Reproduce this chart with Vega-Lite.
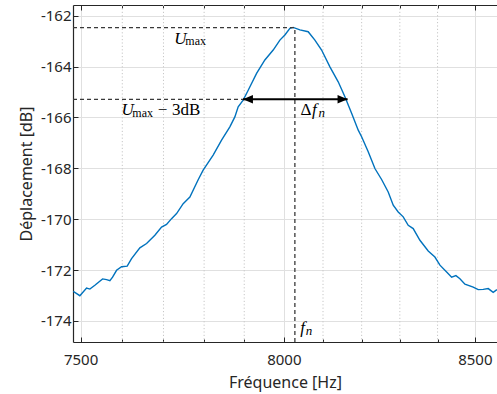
{
  "$schema": "https://vega.github.io/schema/vega-lite/v6.json",
  "width": 424,
  "height": 337,
  "autosize": {"type": "none"},
  "padding": {"left": 73, "top": 5, "right": 0, "bottom": 52},
  "background": "white",
  "config": {
    "view": {"stroke": null},
    "axis": {
      "domainColor": "#262626",
      "tickColor": "#262626",
      "labelColor": "#262626",
      "titleColor": "#262626",
      "labelFont": "Noto Sans",
      "titleFont": "Noto Sans",
      "labelFontSize": 15,
      "titleFontSize": 16,
      "titleFontWeight": "normal",
      "gridColor": "#e0e0e0",
      "gridWidth": 1,
      "domainWidth": 1.2
    }
  },
  "datasets": {
    "curve": [
      {"f": 7482.4, "db": -172.84}, {"f": 7498.3, "db": -173.01}, {"f": 7514.3, "db": -172.71},
      {"f": 7522.2, "db": -172.75}, {"f": 7534.1, "db": -172.60}, {"f": 7552.6, "db": -172.35},
      {"f": 7562.2, "db": -172.38}, {"f": 7570.1, "db": -172.42}, {"f": 7576.6, "db": -172.28},
      {"f": 7586.2, "db": -172.01}, {"f": 7598.3, "db": -171.87}, {"f": 7611.8, "db": -171.85},
      {"f": 7622.4, "db": -171.55}, {"f": 7642.5, "db": -171.13}, {"f": 7658.8, "db": -170.96},
      {"f": 7679.0, "db": -170.63}, {"f": 7695.3, "db": -170.31}, {"f": 7707.5, "db": -170.21},
      {"f": 7719.8, "db": -169.98}, {"f": 7732.1, "db": -169.78}, {"f": 7748.3, "db": -169.39},
      {"f": 7764.8, "db": -169.13}, {"f": 7785.3, "db": -168.45}, {"f": 7797.6, "db": -168.07},
      {"f": 7822.4, "db": -167.48}, {"f": 7843.3, "db": -166.89}, {"f": 7864.0, "db": -166.37},
      {"f": 7876.5, "db": -165.98}, {"f": 7884.8, "db": -165.58}, {"f": 7897.3, "db": -165.32},
      {"f": 7909.9, "db": -164.93}, {"f": 7931.0, "db": -164.27}, {"f": 7951.9, "db": -163.74},
      {"f": 7972.9, "db": -163.35}, {"f": 7989.9, "db": -162.96}, {"f": 8002.6, "db": -162.76},
      {"f": 8015.3, "db": -162.50}, {"f": 8023.7, "db": -162.46}, {"f": 8040.8, "db": -162.56},
      {"f": 8062.0, "db": -162.63}, {"f": 8079.2, "db": -162.96}, {"f": 8096.4, "db": -163.35},
      {"f": 8117.8, "db": -164.01}, {"f": 8139.2, "db": -164.60}, {"f": 8156.5, "db": -165.19},
      {"f": 8173.9, "db": -165.84}, {"f": 8191.1, "db": -166.50}, {"f": 8199.9, "db": -166.76},
      {"f": 8217.1, "db": -167.35}, {"f": 8234.6, "db": -168.01}, {"f": 8252.1, "db": -168.44},
      {"f": 8269.4, "db": -168.93}, {"f": 8282.6, "db": -169.45}, {"f": 8295.7, "db": -169.72},
      {"f": 8308.9, "db": -169.91}, {"f": 8322.1, "db": -170.24}, {"f": 8335.3, "db": -170.37},
      {"f": 8353.1, "db": -170.83}, {"f": 8375.1, "db": -171.25}, {"f": 8392.9, "db": -171.49},
      {"f": 8406.3, "db": -171.81}, {"f": 8424.2, "db": -172.08}, {"f": 8437.6, "db": -172.28},
      {"f": 8449.1, "db": -172.22}, {"f": 8459.8, "db": -172.34}, {"f": 8473.3, "db": -172.56},
      {"f": 8495.6, "db": -172.67}, {"f": 8509.1, "db": -172.77}, {"f": 8522.6, "db": -172.76},
      {"f": 8536.2, "db": -172.73}, {"f": 8549.7, "db": -172.88}, {"f": 8559.8, "db": -172.77}
    ],
    "minor": [
      {"f": 7600}, {"f": 7700}, {"f": 7800}, {"f": 7900},
      {"f": 8100}, {"f": 8200}, {"f": 8300}, {"f": 8400}
    ],
    "guides": [
      {"x1": 7482, "x2": 8028, "y1": -162.47, "y2": -162.47},
      {"x1": 8028, "x2": 8028, "y1": -174.83, "y2": -162.47},
      {"x1": 7482, "x2": 7897, "y1": -165.29, "y2": -165.29}
    ],
    "arrow": [{"x1": 7897, "x2": 8163.5, "y": -165.29}],
    "heads": [
      {"x": 7909.2, "y": -165.29, "dir": "left"},
      {"x": 8150.4, "y": -165.29, "dir": "right"}
    ],
    "labels": [
      {"t": "U", "x": 7726.5, "y": -163.114, "k": "it"},
      {"t": "max", "x": 7753.7, "y": -163.154, "k": "sub"},
      {"t": "U", "x": 7598.3, "y": -165.909, "k": "it"},
      {"t": "max", "x": 7624.3, "y": -165.988, "k": "sub"},
      {"t": "−", "x": 7686.3, "y": -165.909, "k": "rm"},
      {"t": "3dB", "x": 7720.6, "y": -165.909, "k": "rm"},
      {"t": "Δ", "x": 8042.6, "y": -165.909, "k": "rm"},
      {"t": "f", "x": 8071.5, "y": -165.909, "k": "it"},
      {"t": "n", "x": 8088.5, "y": -165.988, "k": "subit"},
      {"t": "f", "x": 8041.5, "y": -174.492, "k": "it"},
      {"t": "n", "x": 8055.5, "y": -174.571, "k": "subit"}
    ]
  },
  "layer": [
    {
      "data": {"name": "minor"},
      "mark": {"type": "rule", "color": "#c6c6c6", "strokeWidth": 1, "strokeDash": [1.2, 2.2]},
      "encoding": {
        "x": {
          "field": "f", "type": "quantitative",
          "scale": {"type": "log", "domain": [7482, 8560], "nice": false, "zero": false},
          "axis": {
            "orient": "bottom", "values": [7600, 7700, 7800, 7900, 8100, 8200, 8300, 8400],
            "grid": false, "tickSize": -3, "labels": false, "domain": false, "title": null
          }
        }
      }
    },
    {
      "data": {"name": "curve"},
      "mark": {"type": "line", "color": "#0072BD", "strokeWidth": 1.4, "clip": true},
      "encoding": {
        "x": {
          "field": "f", "type": "quantitative",
          "scale": {"type": "log", "domain": [7482, 8560], "nice": false, "zero": false},
          "axis": {
            "orient": "bottom", "values": [7500, 8000, 8500], "grid": true,
            "tickSize": -5, "labelPadding": 15, "title": "Fréquence [Hz]", "titlePadding": 7,
            "labelFlush": false, "labelOverlap": false, "labelExpr": "datum.value + ''"
          }
        },
        "y": {
          "field": "db", "type": "quantitative",
          "scale": {"domain": [-174.83, -161.58], "nice": false, "zero": false},
          "axis": {
            "values": [-174, -172, -170, -168, -166, -164, -162], "grid": true,
            "tickSize": -5, "labelPadding": 7, "title": "Déplacement [dB]", "titlePadding": 6,
            "labelExpr": "datum.value + ''"
          }
        }
      }
    },
    {
      "data": {"name": "guides"},
      "mark": {"type": "rule", "color": "#3a3a3a", "strokeWidth": 1.3, "strokeDash": [4, 3]},
      "encoding": {
        "x": {
          "field": "x1", "type": "quantitative",
          "scale": {"type": "log", "domain": [7482, 8560], "nice": false, "zero": false},
          "axis": null
        },
        "x2": {"field": "x2"},
        "y": {
          "field": "y1", "type": "quantitative",
          "scale": {"domain": [-174.83, -161.58], "nice": false, "zero": false},
          "axis": null
        },
        "y2": {"field": "y2"}
      }
    },
    {
      "data": {"name": "arrow"},
      "mark": {"type": "rule", "color": "black", "strokeWidth": 2},
      "encoding": {
        "x": {
          "field": "x1", "type": "quantitative",
          "scale": {"type": "log", "domain": [7482, 8560], "nice": false, "zero": false},
          "axis": {
            "orient": "top", "values": [7500, 8000, 8500], "grid": false, "tickSize": -5,
            "labels": false, "domain": true, "title": null
          }
        },
        "x2": {"field": "x2"},
        "y": {
          "field": "y", "type": "quantitative",
          "scale": {"domain": [-174.83, -161.58], "nice": false, "zero": false},
          "axis": null
        }
      }
    },
    {
      "data": {"name": "heads"},
      "transform": [{"filter": "datum.dir == 'right'"}],
      "mark": {"type": "point", "shape": "M-1,-0.85L1,0L-1,0.85Z", "filled": true, "color": "black", "size": 100, "opacity": 1},
      "encoding": {
        "x": {
          "field": "x", "type": "quantitative",
          "scale": {"type": "log", "domain": [7482, 8560], "nice": false, "zero": false},
          "axis": {
            "orient": "top", "values": [7600, 7700, 7800, 7900, 8100, 8200, 8300, 8400],
            "grid": false, "tickSize": -3, "labels": false, "domain": false, "title": null
          }
        },
        "y": {
          "field": "y", "type": "quantitative",
          "scale": {"domain": [-174.83, -161.58], "nice": false, "zero": false},
          "axis": null
        }
      }
    },
    {
      "data": {"name": "heads"},
      "transform": [{"filter": "datum.dir == 'left'"}],
      "mark": {"type": "point", "shape": "M1,-0.85L-1,0L1,0.85Z", "filled": true, "color": "black", "size": 100, "opacity": 1},
      "encoding": {
        "x": {"field": "x", "type": "quantitative", "scale": {"type": "log", "domain": [7482, 8560], "nice": false, "zero": false}, "axis": null},
        "y": {"field": "y", "type": "quantitative", "scale": {"domain": [-174.83, -161.58], "nice": false, "zero": false}, "axis": null}
      }
    },
    {
      "data": {"name": "labels"},
      "transform": [{"filter": "datum.k == 'it'"}],
      "mark": {"type": "text", "font": "Liberation Serif", "fontStyle": "italic", "fontSize": 17, "align": "left", "baseline": "alphabetic", "color": "black"},
      "encoding": {
        "x": {"field": "x", "type": "quantitative", "scale": {"type": "log", "domain": [7482, 8560], "nice": false, "zero": false}, "axis": null},
        "y": {"field": "y", "type": "quantitative", "scale": {"domain": [-174.83, -161.58], "nice": false, "zero": false}, "axis": null},
        "text": {"field": "t"}
      }
    },
    {
      "data": {"name": "labels"},
      "transform": [{"filter": "datum.k == 'sub'"}],
      "mark": {"type": "text", "font": "Liberation Serif", "fontSize": 12, "align": "left", "baseline": "alphabetic", "color": "black"},
      "encoding": {
        "x": {"field": "x", "type": "quantitative", "scale": {"type": "log", "domain": [7482, 8560], "nice": false, "zero": false}, "axis": null},
        "y": {"field": "y", "type": "quantitative", "scale": {"domain": [-174.83, -161.58], "nice": false, "zero": false}, "axis": null},
        "text": {"field": "t"}
      }
    },
    {
      "data": {"name": "labels"},
      "transform": [{"filter": "datum.k == 'subit'"}],
      "mark": {"type": "text", "font": "Liberation Serif", "fontStyle": "italic", "fontSize": 13, "align": "left", "baseline": "alphabetic", "color": "black"},
      "encoding": {
        "x": {"field": "x", "type": "quantitative", "scale": {"type": "log", "domain": [7482, 8560], "nice": false, "zero": false}, "axis": null},
        "y": {"field": "y", "type": "quantitative", "scale": {"domain": [-174.83, -161.58], "nice": false, "zero": false}, "axis": null},
        "text": {"field": "t"}
      }
    },
    {
      "data": {"name": "labels"},
      "transform": [{"filter": "datum.k == 'rm'"}],
      "mark": {"type": "text", "font": "Liberation Serif", "fontSize": 17, "align": "left", "baseline": "alphabetic", "color": "black"},
      "encoding": {
        "x": {"field": "x", "type": "quantitative", "scale": {"type": "log", "domain": [7482, 8560], "nice": false, "zero": false}, "axis": null},
        "y": {"field": "y", "type": "quantitative", "scale": {"domain": [-174.83, -161.58], "nice": false, "zero": false}, "axis": null},
        "text": {"field": "t"}
      }
    }
  ],
  "resolve": {"axis": {"x": "independent", "y": "independent"}}
}
